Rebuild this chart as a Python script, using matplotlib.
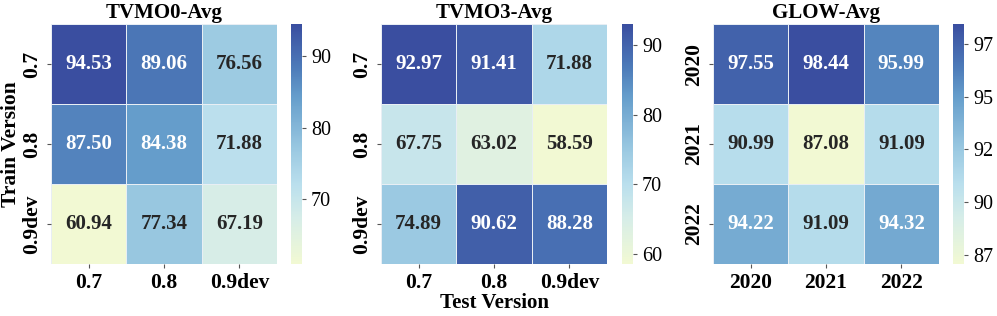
import numpy as np
import matplotlib
matplotlib.use("Agg")
import matplotlib.pyplot as plt
import seaborn as sns
from matplotlib.colors import LinearSegmentedColormap
from matplotlib.ticker import FormatStrFormatter, MultipleLocator

plt.rcParams['font.family'] = ['Liberation Serif', 'DejaVu Serif']
plt.rcParams['font.weight'] = 'bold'

titles = ["TVMO0-Avg", "TVMO3-Avg", "GLOW-Avg"]
tvmo_labels = ["0.7", "0.8", "0.9dev"]
glow_labels = ["2020", "2021", "2022"]

tvmo0 = [[94.53, 89.06, 76.56],
         [87.50, 84.38, 71.88],
         [60.94, 77.34, 67.19]]
tvmo3 = [[92.97, 91.41, 71.88],
         [67.75, 63.02, 58.59],
         [74.89, 90.62, 88.28]]
glow = [[97.55, 98.44, 95.99],
        [90.99, 87.08, 91.09],
        [94.22, 91.09, 94.32]]

cmap = LinearSegmentedColormap.from_list(
    "ylbu",
    [(0.0, "#f2f9d3"), (0.19, "#d6ede8"), (0.33, "#badfed"),
     (0.47, "#9ccae2"), (0.70, "#659dcb"), (0.82, "#4d7bb9"), (1.0, "#3a4ea0")])

W, H = 997, 316
fig = plt.figure(figsize=(W / 100, H / 100), dpi=100)

def px_axes(x0, y0, x1, y1):
    return fig.add_axes([x0 / W, (H - y1) / H, (x1 - x0) / W, (y1 - y0) / H])

panels = [
    (tvmo0, tvmo_labels, (51, 277), (291, 302), 10),
    (tvmo3, tvmo_labels, (381, 607), (622, 633), 10),
    (glow, glow_labels, (713, 939), (953, 964), 2.5),
]

for i, (data, labels, (hx0, hx1), (cx0, cx1), step) in enumerate(panels):
    ax = px_axes(hx0, 24, hx1, 264)
    cax = px_axes(cx0, 24, cx1, 264)
    arr = np.array(data)
    sns.heatmap(arr, ax=ax, cbar_ax=cax, cmap=cmap, annot=True, fmt=".2f",
                linewidths=0.6, linecolor="#e8eef4",
                annot_kws={"fontsize": 15, "fontweight": "bold"},
                xticklabels=labels, yticklabels=labels)
    ax.set_title(titles[i], fontsize=15, fontweight="bold", pad=4)
    ax.tick_params(axis='both', labelsize=15.5, length=3, color="#555555")
    for t in ax.get_xticklabels():
        t.set_fontweight("bold")
        t.set_rotation(0)
    for t in ax.get_yticklabels():
        t.set_fontweight("bold")
        t.set_rotation(90)
        t.set_va("center")
    cax.yaxis.set_major_locator(MultipleLocator(step))
    cax.yaxis.set_major_formatter(FormatStrFormatter("%d"))
    cax.tick_params(labelsize=14.5, length=3, color="#555555")
    for t in cax.get_yticklabels():
        t.set_fontweight("normal")
    if i == 0:
        ax.set_ylabel("Train Version", fontsize=15.5, fontweight="bold", labelpad=1)
    if i == 1:
        ax.set_xlabel("Test Version", fontsize=15, fontweight="bold", labelpad=0)

fig.savefig("out.png", dpi=100)
